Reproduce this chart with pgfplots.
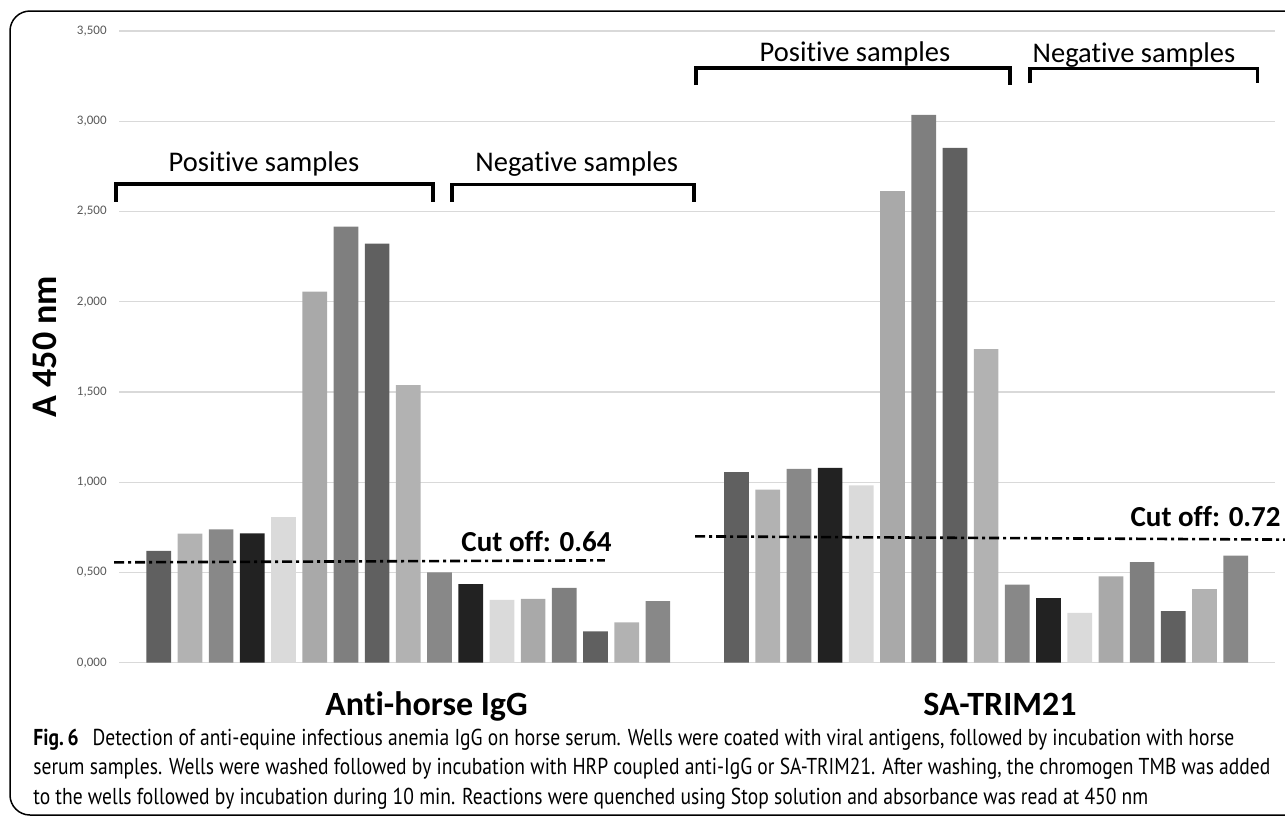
\documentclass[border=0pt]{standalone}
\usepackage{pgfplots}
\pgfplotsset{compat=1.18}
\usepackage{fontspec}
\setmainfont[Ligatures=NoCommon]{Carlito}
\newfontfamily\capfont[FakeStretch=0.85]{PT Sans}
\definecolor{cA}{HTML}{606060}
\definecolor{cB}{HTML}{B2B2B2}
\definecolor{cC}{HTML}{888888}
\definecolor{cD}{HTML}{222222}
\definecolor{cE}{HTML}{DADADA}
\definecolor{cF}{HTML}{A9A9A9}
\definecolor{cG}{HTML}{7F7F7F}
\definecolor{gridc}{HTML}{D9D9D9}
\definecolor{tickc}{HTML}{595959}
\begin{document}
\begin{tikzpicture}
\path[use as bounding box] (0pt,0pt) rectangle (642.5pt,-408pt);
\begin{axis}[
  at={(59.7pt,-331.35pt)}, anchor=south west,
  scale only axis, width=577.8pt, height=315.85pt,
  xmin=-0.26, xmax=36.78, ymin=0, ymax=3.5,
  axis line style={draw=none}, xtick=\empty,
  ytick={0,0.5,1,1.5,2,2.5,3,3.5},
  major tick length=0pt,
  ymajorgrids, grid style={draw=gridc, line width=0.65pt},
  yticklabel style={font=\fontsize{6.5}{7}\selectfont, text=tickc, inner sep=0pt, xshift=-6.2pt},
  /pgf/number format/.cd, fixed, fixed zerofill, precision=3, use comma, 1000 sep={}, assume math mode=true,
  /pgfplots/.cd,
  ybar, bar width=12.35pt,
  clip=false,
]
% Anti-horse IgG at 1..17, SA-TRIM21 at 19.52..35.52
\addplot[fill=cA, draw=none, bar shift=0pt] coordinates {(1,0.619) (8,2.322) (15,0.174) (19.52,1.056) (26.52,2.852) (33.52,0.286)};
\addplot[fill=cB, draw=none, bar shift=0pt] coordinates {(2,0.715) (9,1.538) (16,0.224) (20.52,0.959) (27.52,1.737) (34.52,0.408)};
\addplot[fill=cC, draw=none, bar shift=0pt] coordinates {(3,0.739) (10,0.500) (17,0.341) (21.52,1.074) (28.52,0.433) (35.52,0.593)};
\addplot[fill=cD, draw=none, bar shift=0pt] coordinates {(4,0.717) (11,0.435) (22.52,1.080) (29.52,0.358)};
\addplot[fill=cE, draw=none, bar shift=0pt] coordinates {(5,0.806) (12,0.348) (23.52,0.982) (30.52,0.276)};
\addplot[fill=cF, draw=none, bar shift=0pt] coordinates {(6,2.056) (13,0.354) (24.52,2.613) (31.52,0.478)};
\addplot[fill=cG, draw=none, bar shift=0pt] coordinates {(7,2.416) (14,0.415) (25.52,3.035) (32.52,0.558)};
% cut-off lines
\addplot[sharp plot, black, line width=1.3pt, dash pattern=on 5pt off 2pt on 1.5pt off 2pt, mark=none] coordinates {(-0.43,0.556) (15.30,0.567)};
\addplot[sharp plot, black, line width=1.3pt, dash pattern=on 5pt off 2pt on 1.5pt off 2pt, mark=none] coordinates {(18.19,0.700) (37.2,0.682)};
\end{axis}
\begin{scope}[x=0.5pt,y=-0.5pt]
\draw[line width=0.75pt, rounded corners=10pt] (1310,11) -- (10,11) -- (10,815) -- (1310,815);
% brackets
\draw[line width=1.8pt, line join=miter] (116,201.7) -- (116,183.7) -- (432.7,183.7) -- (432.7,201.7);
\draw[line width=1.8pt, line join=miter] (452,201.7) -- (452,184.3) -- (693.8,184.3) -- (693.8,201.7);
\draw[line width=1.8pt, line join=miter] (695.7,85) -- (695.7,67.7) -- (1010,67.7) -- (1010,85);
\draw[line width=1.8pt, line join=miter] (1030,83.3) -- (1030,68.3) -- (1257.6,68.3) -- (1257.6,83.3);
\node[anchor=base, inner sep=0pt, font=\fontsize{14.25}{17}\selectfont] at (264,171.7) {Positive samples};
\node[anchor=base, inner sep=0pt, font=\fontsize{14.25}{17}\selectfont] at (576.7,171) {Negative samples};
\node[anchor=base, inner sep=0pt, font=\fontsize{14.25}{17}\selectfont] at (855,61) {Positive samples};
\node[anchor=base, inner sep=0pt, font=\fontsize{14.25}{17}\selectfont] at (1134,62.7) {Negative samples};
% cut-off labels
\node[anchor=base, inner sep=0pt, font=\bfseries\fontsize{14.5}{17}\selectfont] at (536.5,551.7) {Cut off: 0.64};
\node[anchor=base, inner sep=0pt, font=\bfseries\fontsize{14.5}{17}\selectfont] at (1205.6,526.7) {Cut off: 0.72};
% axis titles
\node[rotate=90, inner sep=0pt, font=\bfseries\fontsize{18}{21}\selectfont] at (45,346.5) {A 450 nm};
\node[anchor=base, inner sep=0pt, font=\bfseries\fontsize{17}{20}\selectfont] at (426.5,715) {Anti-horse IgG};
\node[anchor=base, inner sep=0pt, font=\bfseries\fontsize{17}{20}\selectfont] at (1000,715) {SA-TRIM21};
% caption
\node[anchor=base west, inner sep=0pt, font=\capfont\fontsize{11.5}{14}\selectfont] at (33,745) {\textbf{Fig.\,6}\hspace{0.6em}Detection of anti-equine infectious anemia IgG on horse serum. Wells were coated with viral antigens, followed by incubation with horse};
\node[anchor=base west, inner sep=0pt, font=\capfont\fontsize{11.5}{14}\selectfont] at (33,774.5) {serum samples. Wells were washed followed by incubation with HRP coupled anti-IgG or SA-TRIM21. After washing, the chromogen TMB was added};
\node[anchor=base west, inner sep=0pt, font=\capfont\fontsize{11.5}{14}\selectfont] at (33,804) {to the wells followed by incubation during 10 min. Reactions were quenched using Stop solution and absorbance was read at 450 nm};
\end{scope}
\end{tikzpicture}
\end{document}
